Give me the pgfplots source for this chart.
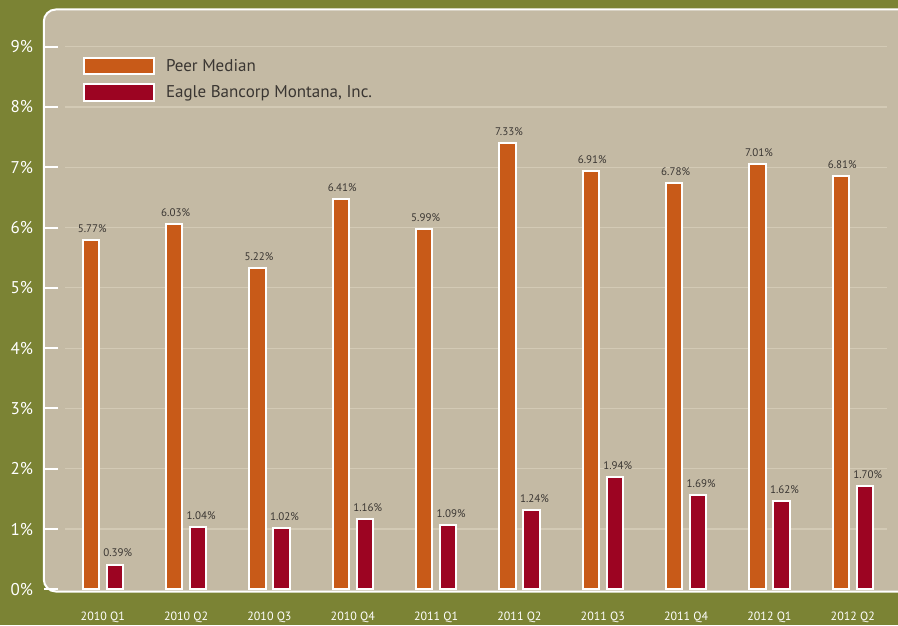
\documentclass[border=0pt]{standalone}
\usepackage{pgfplots}
\pgfplotsset{compat=1.18}
\usepackage{pgfplotstable}
\usepackage{fontspec}
\setmainfont{PT Sans}
\definecolor{olivebg}{RGB}{123,131,52}
\definecolor{panel}{RGB}{196,186,164}
\definecolor{gridc}{RGB}{211,202,181}
\definecolor{peer}{RGB}{200,90,24}
\definecolor{eagle}{RGB}{156,4,34}
\definecolor{txt}{RGB}{58,54,50}

\pgfplotstableread{
x y lab
0 5.79 5.77
1 6.06 6.03
2 5.33 5.22
3 6.47 6.41
4 5.97 5.99
5 7.40 7.33
6 6.94 6.91
7 6.74 6.78
8 7.06 7.01
9 6.85 6.81
}\peer
\pgfplotstableread{
x y lab
0 0.41 0.39
1 1.03 1.04
2 1.01 1.02
3 1.17 1.16
4 1.06 1.09
5 1.31 1.24
6 1.86 1.94
7 1.56 1.69
8 1.47 1.62
9 1.71 1.70
}\eagle

\begin{document}
\begin{tikzpicture}[x=1pt,y=1pt]
\useasboundingbox (0,0) rectangle (898,625);
\fill[olivebg] (0,0) rectangle (898,625);
\begin{axis}[
  at={(43.8pt,33.5pt)}, anchor=south west,
  scale only axis, width=885pt, height=582pt,
  xmin=-0.708, xmax=9.912, ymin=-0.036, ymax=9.618,
  axis line style={draw=none},
  axis background/.style={fill=panel, draw=white, line width=2pt, rounded corners=12pt},
  /pgf/number format/assume math mode=true,
  xtick={0,...,9},
  xticklabels={2010 Q1,2010 Q2,2010 Q3,2010 Q4,2011 Q1,2011 Q2,2011 Q3,2011 Q4,2012 Q1,2012 Q2},
  x tick style={draw=none},
  xticklabel style={font=\fontsize{12}{13}\selectfont, text=white, anchor=base, yshift=-28.5pt},
  ytick={0,...,9},
  ytick pos=left,
  yticklabel={\pgfmathprintnumber{\tick}\%},
  yticklabel style={font=\fontsize{17}{19}\selectfont, text=white, anchor=east, inner sep=0pt, xshift=-10.5pt},
  y tick style={white, line width=2pt},
  major tick length=14pt, tick align=inside,
  legend style={at={(axis description cs:0.0443,0.9189)}, anchor=north west,
    draw=none, fill=none, inner sep=0pt, outer sep=0pt,
    font=\fontsize{17}{19}\selectfont, text=txt,
    row sep=7.9pt, column sep=11pt,
    nodes={inner sep=0pt}},
  legend cell align=left,
  legend image code/.code={\draw[#1, draw=white, line width=2pt] (0pt,-8.3pt) rectangle (70pt,8.3pt);},
  nodes near coords={\pgfmathprintnumber[fixed,fixed zerofill,precision=2]{\pgfplotspointmeta}\%},
  nodes near coords style={font=\fontsize{11}{12}\selectfont, text=txt, anchor=south, inner sep=0pt, yshift=6.5pt},
  point meta=explicit,
  clip=false,
]
\pgfplotsinvokeforeach{1,...,9}{
  \draw[gridc, line width=1.2pt] (axis cs:-0.45,#1) -- (axis cs:9.41,#1);
}
\addplot[ybar, bar width=16.3pt, bar shift=-12pt, fill=peer, draw=white, line width=2pt,
  every node near coord/.append style={xshift=-10.5pt}]
  table[x=x, y=y, meta=lab] {\peer};
\addlegendentry{Peer Median}
\addplot[ybar, bar width=16.3pt, bar shift=12pt, fill=eagle, draw=white, line width=2pt,
  every node near coord/.append style={xshift=15pt}]
  table[x=x, y=y, meta=lab] {\eagle};
\addlegendentry{Eagle Bancorp Montana, Inc.}
\end{axis}
\end{tikzpicture}
\end{document}
